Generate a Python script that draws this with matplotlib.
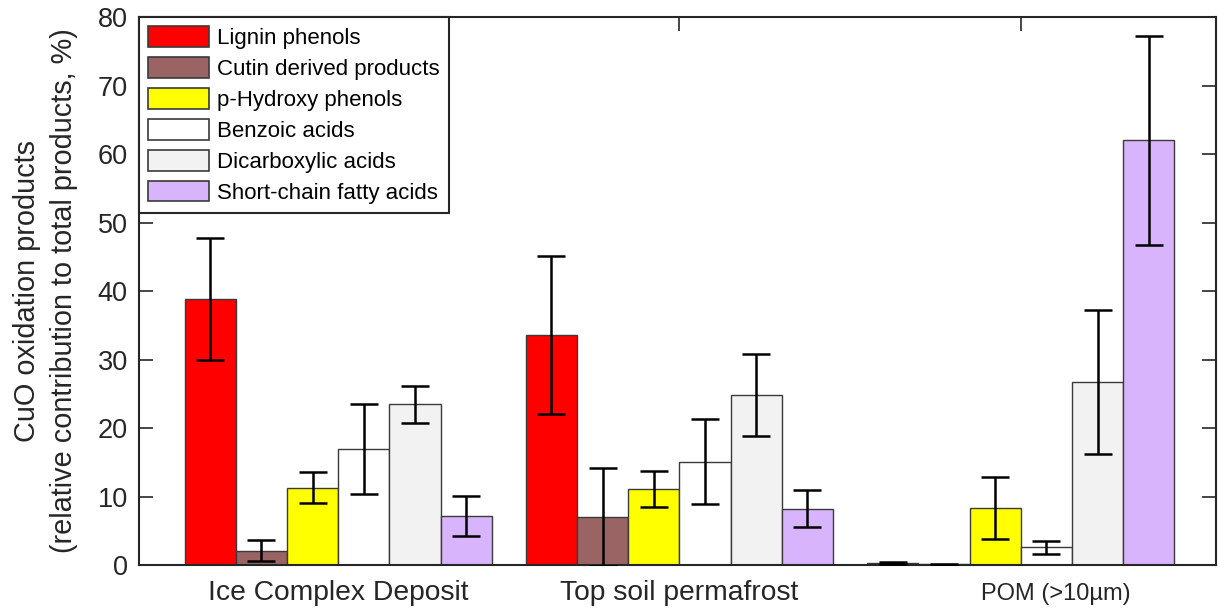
import numpy as np
import matplotlib
matplotlib.use("Agg")
import matplotlib.pyplot as plt

plt.rcParams['font.family'] = ['Liberation Sans', 'DejaVu Sans']

groups = ['Ice Complex Deposit', 'Top soil permafrost', 'POM (>10µm)']
series = ['Lignin phenols', 'Cutin derived products', 'p-Hydroxy phenols',
          'Benzoic acids', 'Dicarboxylic acids', 'Short-chain fatty acids']
colors = ['#ff0000', '#9a6464', '#ffff00', '#ffffff', '#f2f2f2', '#d8b4fc']

# values per series: [Ice Complex, Top soil, POM]
lignin = [38.9, 33.6, 0.35]
cutin = [2.1, 7.0, 0.1]
hydroxy = [11.3, 11.1, 8.3]
benzoic = [16.9, 15.1, 2.6]
dicarb = [23.5, 24.8, 26.7]
scfa = [7.2, 8.2, 62.0]

lignin_err = [8.9, 11.5, 0.15]
cutin_err = [1.55, 7.2, 0.05]
hydroxy_err = [2.25, 2.6, 4.5]
benzoic_err = [6.55, 6.15, 0.95]
dicarb_err = [2.7, 6.0, 10.5]
scfa_err = [2.9, 2.7, 15.25]

values = [lignin, cutin, hydroxy, benzoic, dicarb, scfa]
errors = [lignin_err, cutin_err, hydroxy_err, benzoic_err, dicarb_err, scfa_err]

fig = plt.figure(figsize=(12.2, 6.12), dpi=100)
ax = fig.add_axes([0.1139, 0.0768, 0.8828, 0.8954])

x = np.arange(1, len(groups) + 1)
w = 0.15
n = len(series)
for i, (vals, errs, c, lab) in enumerate(zip(values, errors, colors, series)):
    pos = x + (i - (n - 1) / 2) * w
    ax.bar(pos, vals, width=w, color=c, edgecolor='#3a3a3a', linewidth=1.0,
           label=lab, zorder=2)
    ax.errorbar(pos, vals, yerr=errs, fmt='none', ecolor='black',
                elinewidth=1.8, capsize=10, capthick=1.8, zorder=3)

ax.set_xlim(0.4164, 3.572)
ax.set_ylim(0, 80)
ax.set_yticks(np.arange(0, 81, 10))
ax.set_xticks(x)
ax.set_xticklabels(groups[:2] + [''])
for t in ax.get_xticklabels():
    t.set_fontsize(20.3)
    t.set_color('#262626')

# third group label: smaller and shifted right, as in the original figure
ax.annotate(groups[2], xy=(x[2], 0), xycoords=('data', 'axes fraction'),
            xytext=(25, -13), textcoords='offset points', ha='center', va='top',
            fontsize=17, color='#262626')

ax.tick_params(axis='both', direction='in', top=True, right=True, length=10,
               width=1.2, color='#262626', labelcolor='#262626')
ax.tick_params(axis='y', labelsize=19.5, pad=8)
ax.tick_params(axis='x', pad=11)
for sp in ax.spines.values():
    sp.set_color('#262626')
    sp.set_linewidth(1.5)

ax.set_ylabel('CuO oxidation products\n(relative contribution to total products, %)',
              fontsize=20.8, color='#262626', labelpad=14, linespacing=1.4)

leg = ax.legend(loc='upper left', bbox_to_anchor=(0, 1), borderaxespad=0,
                fontsize=16, frameon=True, fancybox=False, framealpha=1,
                edgecolor='#262626', handlelength=2.75, handleheight=1.05,
                labelspacing=0.36, handletextpad=0.35, borderpad=0.42)
leg.get_frame().set_linewidth(1.5)
for h in leg.legend_handles:
    h.set_edgecolor('#3a3a3a')
    h.set_linewidth(1.2)

fig.savefig('out.png', dpi=100)
